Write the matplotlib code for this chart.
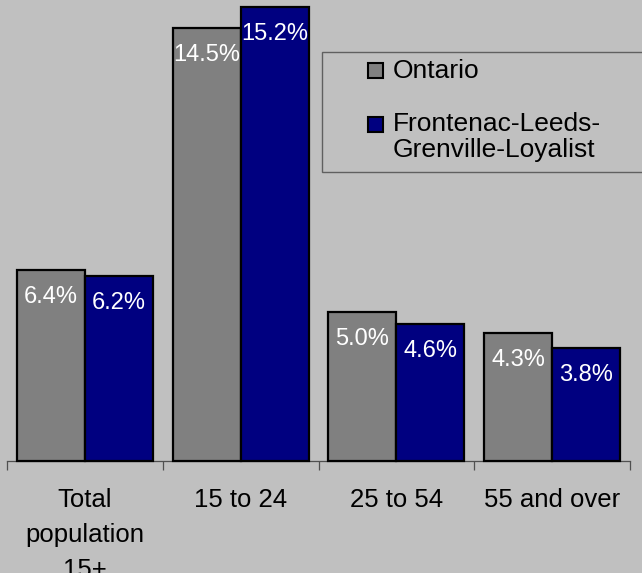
import matplotlib
matplotlib.use("Agg")
import matplotlib.pyplot as plt
import numpy as np
from matplotlib.patches import Rectangle

plt.rcParams['font.family'] = ['Liberation Sans', 'DejaVu Sans']

categories = ["Total\npopulation\n15+", "15 to 24", "25 to 54", "55 and over"]
series_names = ["Ontario", "Frontenac-Leeds-\nGrenville-Loyalist"]
ontario = [6.4, 14.5, 5.0, 4.3]
flgl = [6.2, 15.2, 4.6, 3.8]
colors = ["#808080", "#000080"]
bg = "#c0c0c0"

W, H = 642, 573
fig = plt.figure(figsize=(W / 100, H / 100), dpi=100, facecolor=bg)
ax = fig.add_axes([7 / W, 1 - 461 / H, (630 - 7) / W, 461 / H])
ax.set_facecolor(bg)

x = np.arange(len(categories))
bw = 68 / 156
for i, (vals, c) in enumerate(zip([ontario, flgl], colors)):
    offs = (i - 0.5) * bw
    bars = ax.bar(x + offs, vals, width=bw, color=c, edgecolor="black",
                  linewidth=1.6, clip_on=False, zorder=3)
    for b, v in zip(bars, vals):
        ax.annotate(f"{v:.1f}%", (b.get_x() + b.get_width() / 2, v),
                    xytext=(0, -19.5), textcoords="offset points",
                    ha="center", va="center", color="white", fontsize=17,
                    zorder=4)

ax.set_xlim(-0.5, len(categories) - 0.5)
ax.set_ylim(0, 461 / (454 / 15.2))
for s in ["top", "left", "right"]:
    ax.spines[s].set_visible(False)
ax.spines["bottom"].set_color("#505050")
ax.spines["bottom"].set_linewidth(0.9)
ax.set_yticks([])
ax.set_xticks(x)
ax.set_xticklabels(categories, fontsize=18.5, linespacing=1.57)
ax.tick_params(axis="x", which="major", length=0, pad=19.5)
ax.set_xticks(np.arange(len(categories) + 1) - 0.5, minor=True)
ax.tick_params(axis="x", which="minor", length=6.5, width=0.9, color="#505050", direction="out")

# legend box (manual, extends past the right edge like the reference)
def fx(px):
    return px / W

def fy(py):
    return 1 - py / H

fig.patches.append(Rectangle((fx(322), fy(172)), fx(340), (172 - 52) / H,
                             transform=fig.transFigure, facecolor=bg,
                             edgecolor="#606060", linewidth=1.0, zorder=5))
sw = 15
fig.patches.append(Rectangle((fx(368), fy(78)), sw / W, sw / H, transform=fig.transFigure,
                             facecolor=colors[0], edgecolor="black", linewidth=1.5, zorder=6))
fig.patches.append(Rectangle((fx(368), fy(132)), sw / W, sw / H, transform=fig.transFigure,
                             facecolor=colors[1], edgecolor="black", linewidth=1.5, zorder=6))
fig.text(fx(393), fy(70.5), series_names[0], fontsize=19, va="center", ha="left", zorder=7)
fig.text(fx(393), fy(112), series_names[1], fontsize=19, va="top", ha="left",
         linespacing=1.13, zorder=7)

fig.savefig("out.png", dpi=100, facecolor=bg)
